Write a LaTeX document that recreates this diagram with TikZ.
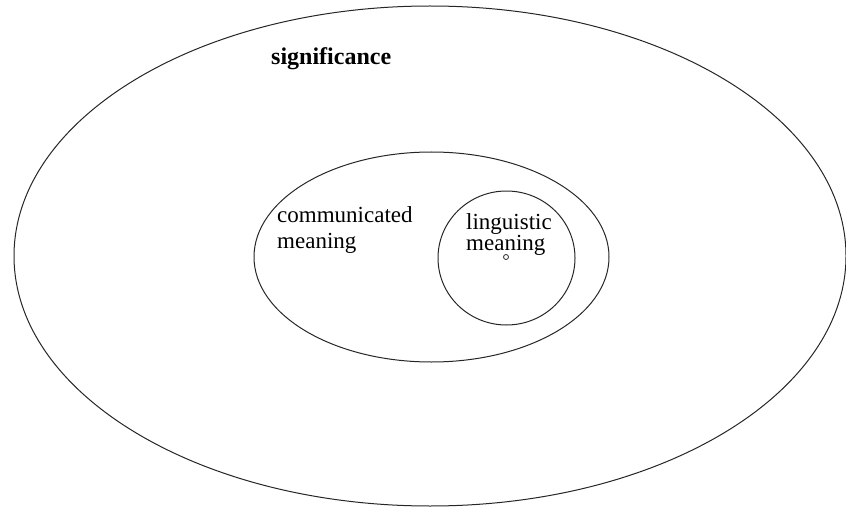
\documentclass[tikz,border=0pt]{standalone}
\usepackage{fontspec}
\setmainfont{Liberation Serif}
\begin{document}
\begin{tikzpicture}[x=1pt,y=-1pt,
  ring/.style={draw=black!85,line width=1pt},
  lbl/.style={anchor=base west,inner sep=0pt,font=\fontsize{23}{26}\selectfont}]
\useasboundingbox (0,0) rectangle (846,508);
\draw[ring] (430,256) ellipse [x radius=416,y radius=250];
\draw[ring] (431.5,257) ellipse [x radius=177.5,y radius=105];
\draw[ring] (506.5,258) ellipse [x radius=68.5,y radius=67];
\node[draw=black!85,line width=0.8pt,circle,inner sep=0pt,minimum size=5pt] (dot) at (506,257) {};
\node[lbl,font=\fontsize{24}{26}\selectfont\bfseries] (sig) at (271,65) {significance};
\node[lbl] (com1) at (277,222) {communicated};
\node[lbl] (com2) at (277,248) {meaning};
\node[lbl] (lin1) at (466,229) {linguistic};
\node[lbl] (lin2) at (466,250) {meaning};
\end{tikzpicture}
\end{document}
